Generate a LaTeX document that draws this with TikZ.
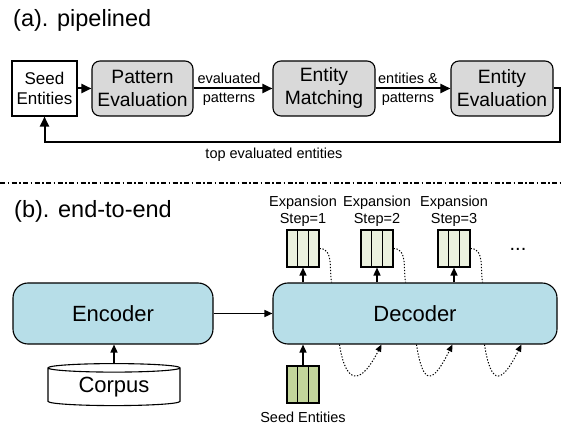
\documentclass[tikz,border=0pt]{standalone}
\usepackage{fontspec}
\setmainfont{Liberation Sans}
\usetikzlibrary{arrows.meta,positioning,calc,shapes.geometric}
\definecolor{boxgray}{HTML}{D9D9D9}
\definecolor{netblue}{HTML}{B7DEE8}
\definecolor{vecgreen}{HTML}{EBF1DE}
\definecolor{seedgreen}{HTML}{C3D69B}

\begin{document}
\begin{tikzpicture}[x=1pt,y=1pt,
  title/.style={anchor=base west,inner sep=0pt,font=\fontsize{23.5}{28}\selectfont},
  stage/.style={draw,rounded corners=8pt,fill=boxgray,line width=1.1pt,
    minimum width=102pt,minimum height=55pt,inner sep=0pt,align=center,
    font=\fontsize{19.3}{23}\selectfont},
  seedbox/.style={draw,line width=1.1pt,minimum width=65pt,minimum height=55pt,
    inner sep=0pt,align=center,font=\fontsize{17}{20}\selectfont},
  lbl/.style={inner sep=3.5pt,font=\fontsize{14.5}{16.5}\selectfont},
  steplbl/.style={lbl,align=center,inner sep=1pt},
  flow/.style={line width=2pt,-{Triangle[length=10pt,width=9pt]}},
  flowb/.style={line width=1.5pt,-{Triangle[length=8pt,width=7pt]}},
  net/.style={draw,rounded corners=15pt,fill=netblue,line width=1.1pt,
    minimum width=200pt,minimum height=61pt,font=\fontsize{22}{26}\selectfont},
  vec/.style={draw,fill=vecgreen,line width=1.1pt,minimum width=32pt,
    minimum height=37pt,inner sep=0pt},
  loopback/.style={line width=1pt,dash pattern=on 1.3pt off 1.7pt},
  divider/.style={line width=1.2pt,dash pattern=on 5pt off 2.5pt on 1.5pt off 2.5pt}]
  \useasboundingbox (0,0) rectangle (561,425);

  % (a) pipelined
  \node[title] (titleA) at (13,398) {(a). pipelined};
  \node[seedbox] (seed) at (44.5,336.5) {Seed\\Entities};
  \node[stage,minimum width=101pt] (pattern) at (142.5,336.5) {Pattern\\Evaluation};
  \node[stage] (match) at (324,336.5) {Entity\\Matching};
  \node[stage] (entEval) at (502,336.5) {Entity\\Evaluation};
  \coordinate (fbR) at (560,283);

  \draw[flow] (seed) -- (pattern);
  \draw[flow] (pattern) -- node[lbl,above,xshift=-4pt]{evaluated}
    node[lbl,below,xshift=-4pt]{patterns} (match);
  \draw[flow] (match) -- node[lbl,above,xshift=-5pt]{entities \&}
    node[lbl,below,xshift=-5pt]{patterns} (entEval);
  \draw[flow] (entEval.east) -| (fbR) -| (seed.south);  %feedback
  \node[lbl] (fbLabel) at (274,270) {top evaluated entities};

  \draw[divider] (0,242) -- (561,242);

  % (b) end-to-end
  \node[title] (titleB) at (14,207) {(b). end-to-end};
  \node[net] (encoder) at (113,111.5) {Encoder};
  \node[net,minimum width=284pt] (decoder) at (415,111.5) {Decoder};
  \node[draw,fill=white,line width=1.1pt,shape=cylinder,shape border rotate=90,
    aspect=0.12,minimum width=132pt,minimum height=42pt,inner sep=0pt,
    font=\fontsize{22}{26}\selectfont] (corpus) at (114,38) {Corpus};
  \draw[flowb] (corpus.north) -- (corpus.north |- encoder.south);
  \draw[flowb] (encoder) -- (decoder);

  \node[vec,fill=seedgreen] (seedvec) at (303,40.5) {};
  \node[lbl,anchor=base,inner sep=0pt] (seedLabel) at (303,3) {Seed Entities};
  \draw[flowb] (seedvec) -- (seedvec |- decoder.south);

  \foreach \i/\x in {1/303,2/377,3/454}{
    \node[vec] (exp\i) at (\x,176.5) {};
    \node[steplbl,above=2pt of exp\i] (step\i) {Expansion\\Step=\i};
    \draw[flowb] (exp\i |- decoder.north) -- (exp\i);
    \draw[loopback] (exp\i.east) to[out=0,in=100] ($(exp\i.east |- decoder.north)+(12,0)$);
  }
  \node[font=\fontsize{20}{24}\selectfont] (more) at (518,176) {...};

  % column lines
  \foreach \v in {exp1,exp2,exp3,seedvec}{
    \draw[line width=1.1pt] ($(\v.north west)!1/3!(\v.north east)$) -- ($(\v.south west)!1/3!(\v.south east)$);
    \draw[line width=1.1pt] ($(\v.north west)!2/3!(\v.north east)$) -- ($(\v.south west)!2/3!(\v.south east)$);
  }

  % feeding back below the decoder
  \foreach \a/\b in {67/109,144/180,212/249}{
    \draw[loopback,-{Triangle[length=7pt,width=6pt]}] ($(decoder.south west)+(\a,0)$)
      .. controls +(7,-44) and +(-19,-38) .. ($(decoder.south west)+(\b,0)$);
  }
\end{tikzpicture}
\end{document}
